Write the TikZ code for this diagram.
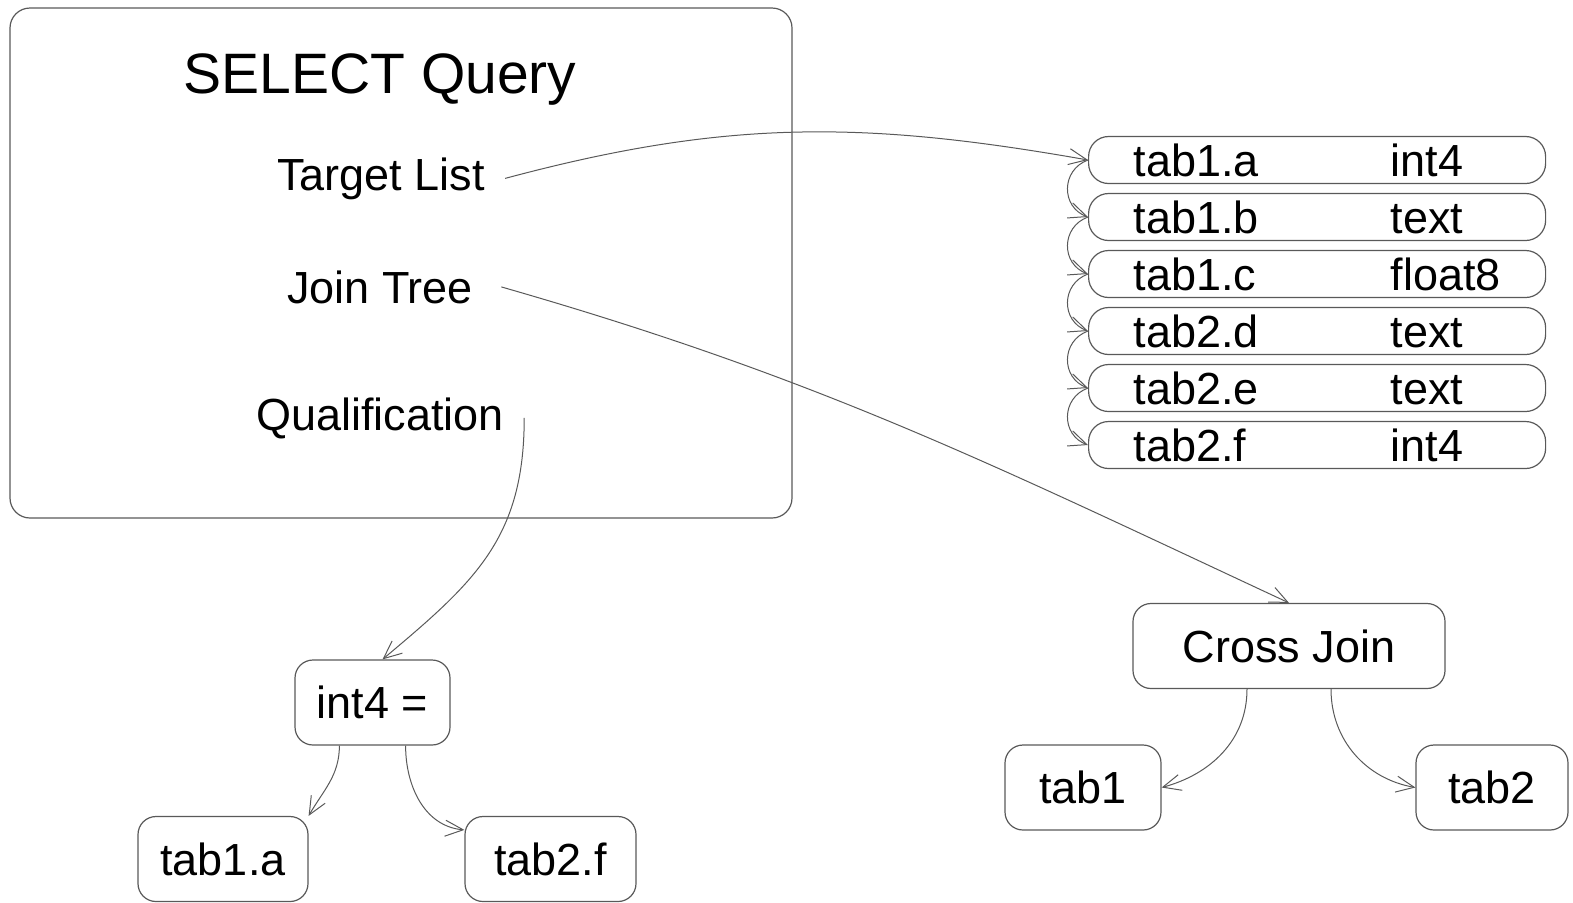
\documentclass[tikz,border=0pt]{standalone}
\usepackage{fontspec}
\setmainfont{Liberation Sans}
\usetikzlibrary{arrows.meta,positioning}
\definecolor{linegray}{gray}{0.35}

\begin{document}
\begin{tikzpicture}[x=0.5pt,y=-0.5pt,
  box/.style={draw=linegray,line width=0.6pt,rounded corners=9pt,minimum height=42.5pt,inner sep=0pt,font=\fontsize{22.5}{26}\selectfont},
  row/.style={draw=linegray,line width=0.6pt,rounded corners=10pt,minimum width=228.5pt,minimum height=23.5pt,inner xsep=22.5pt,inner ysep=0pt,anchor=west,font=\fontsize{22.5}{26}\selectfont},
  lbl/.style={font=\fontsize{22.5}{26}\selectfont,inner sep=10pt,anchor=base},
  arr/.style={draw=linegray,line width=0.5pt,-{Straight Barb[length=9pt,width=8pt]}}]

  \useasboundingbox (0,0) rectangle (1573,902);

  % query block
  \node[draw=linegray,line width=0.6pt,rounded corners=10pt,minimum width=391pt,minimum height=255pt] (query) at (401,263) {};
  \node[font=\fontsize{28.5}{32}\selectfont,anchor=base] (title) at (380,93) {SELECT Query};
  \node[lbl] (tl) at (381,190) {Target List};
  \node[lbl] (jt) at (380,303) {Join Tree};
  \node[lbl] (ql) at (380,430) {Qualification};

  % target list entries
  \foreach \nm/\ty [count=\i] in {tab1.a/int4,tab1.b/text,tab1.c/float8,tab2.d/text,tab2.e/text,tab2.f/int4}
    \node[row] (r\i) at (1088,{160+57*(\i-1)}) {\makebox[128.5pt][l]{\nm}\makebox[55pt][l]{\ty}};

  \foreach \i [count=\j from 2] in {1,...,5}
    \draw[arr] (r\i.west) to[out=200,in=160,looseness=1.3] (r\j.west);

  % join tree
  \node[box,minimum width=156pt] (cj) at (1289,646) {Cross Join};
  \node[box,minimum width=78pt] (t1) at (1083,787.5) {tab1};
  \node[box,minimum width=76pt] (t2) at (1492,787.5) {tab2};

  % qualification
  \node[box,minimum width=77.5pt] (eq) at (372.5,702.5) {int4 =};
  \node[box,minimum width=85pt] (ta) at (223,859) {tab1.a};
  \node[box,minimum width=85.5pt] (tf) at (550.5,859) {tab2.f};

  \draw[arr] (tl.east) to[out=15,in=170] (r1.west);
  \draw[arr] ([xshift=4pt]jt.east) to[out=-16,in=155] (cj.north);
  \draw[arr] (ql.east) to[out=-90,in=40,looseness=1.1] ([xshift=5pt]eq.north);

  \draw[arr] ([xshift=-21pt]cj.south) to[out=-90,in=15] (t1.east);
  \draw[arr] ([xshift=21pt]cj.south) to[out=-90,in=170] (t2.west);
  \draw[arr] ([xshift=22.5pt]eq.south west) to[out=-90,in=60] (ta.north east);
  \draw[arr] ([xshift=-22.5pt]eq.south east) to[out=-90,in=175] ([yshift=-7pt]tf.north west);
\end{tikzpicture}
\end{document}
